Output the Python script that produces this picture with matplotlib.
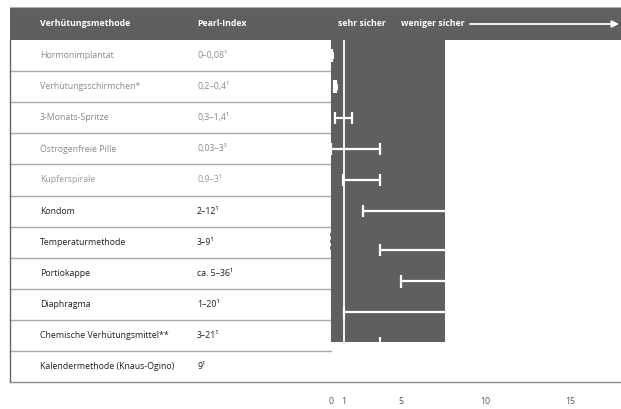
import numpy as np
import matplotlib
matplotlib.use("Agg")
import matplotlib.pyplot as plt

plt.rcParams['font.family'] = ['Open Sans', 'DejaVu Sans']

# data
methods = ["Hormonimplantat", "Verhütungsschirmchen*", "3-Monats-Spritze",
           "Östrogenfreie Pille", "Kupferspirale", "Kondom", "Temperaturmethode",
           "Portiokappe", "Diaphragma", "Chemische Verhütungsmittel**",
           "Kalendermethode (Knaus-Ogino)"]
pearl_text = ["0–0,08¹", "0,2–0,4¹", "0,3–1,4¹", "0,03–3³", "0,9–3¹", "2–12¹",
              "3–9¹", "ca. 5–36¹", "1–20¹", "3–21¹", "9¹"]
pi_low = [0, 0.2, 0.3, 0.03, 0.9, 2, 3, 5, 1, 3, np.nan]
pi_high = [0.08, 0.4, 1.4, 3, 3, 12, 9, 36, 20, 21, np.nan]
text_colors = ["#8a8a8a", "#8a8a8a", "#8a8a8a", "#8a8a8a", "#9a9a9a",
               "#1e1e1e", "#1e1e1e", "#1e1e1e", "#1e1e1e", "#1e1e1e", "#1e1e1e"]
xticks = [0, 1, 5, 10, 15]

W, H = 621, 409
dark = "#5f5f5f"
fig = plt.figure(figsize=(W / 100, H / 100), dpi=100)

# the original axis is not quite linear: piecewise scale (value -> pixels from 0)
anchor_v = [0, 1, 2, 3, 5, 10, 15, 40]
anchor_px = [0, 13, 32, 49, 70, 154, 239, 664]
def fwd(v):
    return np.interp(v, anchor_v, anchor_px)
def inv(p):
    return np.interp(p, anchor_px, anchor_v)

# background axes in pixel coordinates for the table
bg = fig.add_axes([0, 0, 1, 1])
bg.set_xlim(0, W)
bg.set_ylim(H, 0)
bg.axis("off")

row_top, row_h = 40, 31.1
bg.add_patch(plt.Rectangle((10, 7), W - 10, row_top - 7, color=dark, lw=0))
bg.plot([10, W], [6.5, 6.5], color="#b0b0b0", lw=0.8)
for x, t in [(40, "Verhütungsmethode"), (197, "Pearl-Index"),
             (338, "sehr sicher"), (401, "weniger sicher")]:
    bg.text(x, 24, t, color="white", fontsize=6.3, fontweight="bold", va="center")
bg.annotate("", xy=(619, 24), xytext=(470, 24),
            arrowprops=dict(arrowstyle="-|>", color="white", lw=1.3,
                            mutation_scale=10, shrinkA=0, shrinkB=0))

for i, (m, p, c) in enumerate(zip(methods, pearl_text, text_colors)):
    yc = row_top + row_h * (i + 0.5)
    bg.text(40, yc, m, color=c, fontsize=6.3, va="center")
    bg.text(197, yc, p, color=c, fontsize=6.3, va="center")
    yb = row_top + row_h * (i + 1)
    if i < len(methods) - 1:
        bg.plot([10, 331], [yb, yb], color="#a8a8a8", lw=1)
bg.plot([10, 10], [row_top, 382], color="#666666", lw=1)
bg.plot([10, W], [382, 382], color="#8a8a8a", lw=1)
bg.plot([331, 331], [233, 252], color="#555555", lw=1.2, ls=(0, (2, 2)))

# data panel
x0, x1 = 331, 445
y_bottom = 342
n_rows_vis = (y_bottom - row_top) / row_h
ax = fig.add_axes([x0 / W, (H - y_bottom) / H, (x1 - x0) / W, (y_bottom - row_top) / H])
ax.set_facecolor(dark)
ax.set_xscale("function", functions=(fwd, inv))
ax.set_xlim(0, inv(x1 - x0))
ax.set_ylim(-0.5 + n_rows_vis, -0.5)
for s in ax.spines.values():
    s.set_visible(False)
ax.set_xticks([])
ax.set_yticks([])
ax.minorticks_off()

ax.axvline(1, color="white", lw=1.3)
idx = np.arange(len(methods))
ypos = idx + np.where(idx >= 6, 0.26, 0.0)
lo = np.array(pi_low)
hi = np.array(pi_high)
ok = ~np.isnan(lo)
ax.hlines(ypos[ok], lo[ok], hi[ok], color="white", lw=1.6)
ax.vlines(lo[ok], ypos[ok] - 0.2, ypos[ok] + 0.2, color="white", lw=1.6)
ax.vlines(hi[ok], ypos[ok] - 0.2, ypos[ok] + 0.2, color="white", lw=1.6)
# tiny ranges show as small filled blocks
small = ok & (hi - lo < 0.5)
ax.barh(ypos[small], hi[small] - lo[small] + 0.12, left=lo[small], height=0.2,
        color="white", lw=0)

# tick axis
axt = fig.add_axes([x0 / W, (H - 382) / H, (W - x0) / W, 0.001])
axt.set_xscale("function", functions=(fwd, inv))
axt.set_xlim(0, inv(W - x0))
axt.set_yticks([])
for s in axt.spines.values():
    s.set_visible(False)
axt.set_xticks(xticks)
axt.set_xticklabels([str(t) for t in xticks])
axt.minorticks_off()
axt.tick_params(axis="x", length=0, pad=11, labelsize=6.3, labelcolor="#555555")

fig.savefig("out.png", dpi=100)
